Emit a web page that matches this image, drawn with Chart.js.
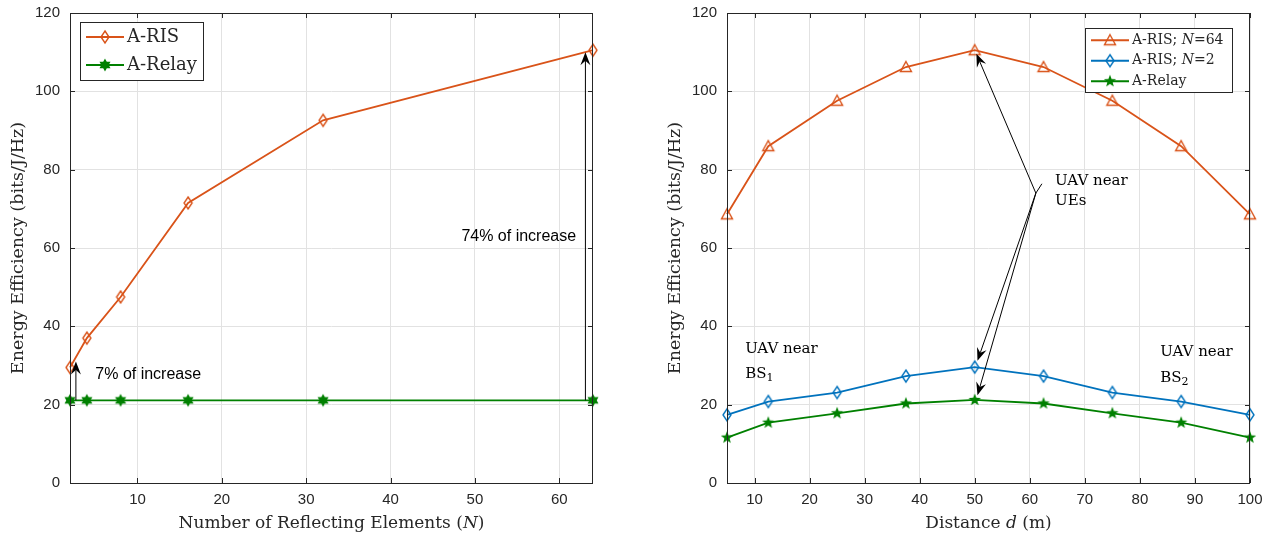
<!DOCTYPE html>
<html>
<head>
<meta charset="utf-8">
<script src="https://cdn.jsdelivr.net/npm/chart.js@4.4.1/dist/chart.umd.min.js"></script>
<style>
  body { margin: 0; background: #fff; }
  #wrap { position: relative; width: 1273px; height: 541px; }
  canvas { position: absolute; top: 0; }
</style>
</head>
<body>
<div id="wrap">
  <canvas id="effN" width="620" height="541" style="left:0"></canvas>
  <canvas id="effD" width="616" height="541" style="left:657px"></canvas>
</div>
<script>
// left panel: EE vs number of reflecting elements
const N_ELEMENTS = [2, 4, 8, 16, 32, 64];
const EE_RIS_N = [29.5, 37, 47.5, 71.5, 92.6, 110.5];
const EE_RELAY_N = [21.1, 21.1, 21.1, 21.1, 21.1, 21.1];
const X_TICKS_N = [10, 20, 30, 40, 50, 60];

// right panel: EE vs distance d
const DISTANCES = [5, 12.5, 25, 37.5, 50, 62.5, 75, 87.5, 100];
const EE_RIS64_D = [68.6, 86, 97.6, 106.2, 110.5, 106.2, 97.6, 86, 68.6];
const EE_RIS2_D = [17.4, 20.8, 23.1, 27.3, 29.6, 27.3, 23.1, 20.8, 17.4];
const EE_RELAY_D = [11.6, 15.4, 17.8, 20.3, 21.2, 20.3, 17.8, 15.4, 11.6];
const X_TICKS_D = [10, 20, 30, 40, 50, 60, 70, 80, 90, 100];

const Y_TICKS = [0, 20, 40, 60, 80, 100, 120];

const ORANGE = '#D95319';
const BLUE = '#0072BD';
const GREEN = '#008000';
const AXIS_COL = '#262626';
const SERIF = '"DejaVu Serif", serif';
const SANS = '"Liberation Sans", Arial, sans-serif';

// marker images (MATLAB-like)
function makeMarker(kind, color) {
  const c = document.createElement('canvas');
  c.width = 16; c.height = 16;
  const g = c.getContext('2d');
  const m = 8;
  g.strokeStyle = color;
  g.fillStyle = color;
  g.lineWidth = 1.4;
  g.beginPath();
  if (kind === 'diamond') {
    g.moveTo(m, m - 6); g.lineTo(m + 4, m); g.lineTo(m, m + 6); g.lineTo(m - 4, m); g.closePath();
    g.stroke();
  } else if (kind === 'triangle') {
    g.moveTo(m, m - 5.5); g.lineTo(m + 5.5, m + 4.5); g.lineTo(m - 5.5, m + 4.5); g.closePath();
    g.stroke();
  } else if (kind === 'hexagram') {
    for (let i = 0; i < 12; i++) {
      const r = i % 2 === 0 ? 5 : 2.9;
      const a = -Math.PI / 2 + i * Math.PI / 6;
      const px = m + r * Math.cos(a), py = m + r * Math.sin(a);
      i === 0 ? g.moveTo(px, py) : g.lineTo(px, py);
    }
    g.closePath(); g.fill(); g.stroke();
  } else if (kind === 'pentagram') {
    for (let i = 0; i < 10; i++) {
      const r = i % 2 === 0 ? 6.5 : 2.7;
      const a = -Math.PI / 2 + i * Math.PI / 5;
      const px = m + r * Math.cos(a), py = m + r * Math.sin(a);
      i === 0 ? g.moveTo(px, py) : g.lineTo(px, py);
    }
    g.closePath(); g.fill();
  }
  return c;
}

function pts(xs, ys) {
  return xs.map((x, i) => ({x: x, y: ys[i]}));
}

function series(label, xs, ys, color, marker) {
  return {
    label: label,
    data: pts(xs, ys),
    borderColor: color,
    borderWidth: 1.8,
    pointStyle: makeMarker(marker, color),
    pointRadius: 5,
    clip: false,
    tension: 0
  };
}

// draw rich text pieces [{t, italic, sub}]
function drawRich(ctx, pieces, x, y, size, align) {
  const fontOf = p => (p.italic ? 'italic ' : '') + (p.sub ? Math.round(size * 0.7) : size) + 'px ' + SERIF;
  let total = 0;
  pieces.forEach(p => { ctx.font = fontOf(p); total += ctx.measureText(p.t).width; });
  let cx = align === 'center' ? x - total / 2 : (align === 'right' ? x - total : x);
  ctx.textAlign = 'left';
  ctx.textBaseline = 'middle';
  pieces.forEach(p => {
    ctx.font = fontOf(p);
    ctx.fillText(p.t, cx, p.sub ? y + size * 0.3 : y);
    cx += ctx.measureText(p.t).width;
  });
}

function drawArrow(ctx, x0, y0, x1, y1) {
  const len = 13, half = 5, notch = 8.5;
  const a = Math.atan2(y1 - y0, x1 - x0);
  const cos = Math.cos(a), sin = Math.sin(a);
  ctx.save();
  ctx.strokeStyle = '#000';
  ctx.fillStyle = '#000';
  ctx.lineWidth = 1;
  ctx.beginPath();
  ctx.moveTo(x0, y0);
  ctx.lineTo(x1 - notch * cos, y1 - notch * sin);
  ctx.stroke();
  ctx.beginPath();
  ctx.moveTo(x1, y1);
  ctx.lineTo(x1 - len * cos - half * sin, y1 - len * sin + half * cos);
  ctx.lineTo(x1 - notch * cos, y1 - notch * sin);
  ctx.lineTo(x1 - len * cos + half * sin, y1 - len * sin - half * cos);
  ctx.closePath();
  ctx.fill();
  ctx.restore();
}

// box, inward ticks, axis titles
function drawFrame(chart, xTitle) {
  const {ctx, chartArea: ca, scales} = chart;
  ctx.save();
  ctx.strokeStyle = AXIS_COL;
  ctx.lineWidth = 1;
  ctx.strokeRect(ca.left + 0.5, ca.top + 0.5, ca.right - ca.left - 1, ca.bottom - ca.top);
  ctx.beginPath();
  scales.x.ticks.forEach(t => {
    const px = Math.round(scales.x.getPixelForValue(t.value)) + 0.5;
    ctx.moveTo(px, ca.bottom); ctx.lineTo(px, ca.bottom - 5);
    ctx.moveTo(px, ca.top); ctx.lineTo(px, ca.top + 5);
  });
  scales.y.ticks.forEach(t => {
    const py = Math.round(scales.y.getPixelForValue(t.value)) + 0.5;
    ctx.moveTo(ca.left, py); ctx.lineTo(ca.left + 5, py);
    ctx.moveTo(ca.right, py); ctx.lineTo(ca.right - 5, py);
  });
  ctx.stroke();

  ctx.fillStyle = AXIS_COL;
  drawRich(ctx, xTitle, (ca.left + ca.right) / 2, 524, 17, 'center');
  ctx.translate(ca.left - 52, (ca.top + ca.bottom) / 2);
  ctx.rotate(-Math.PI / 2);
  drawRich(ctx, [{t: 'Energy Efficiency (bits/J/Hz)'}], 0, 0, 17.5, 'center');
  ctx.restore();
}

function drawLegend(chart, box, rows, size) {
  const {ctx} = chart;
  const ds = chart.data.datasets;
  ctx.save();
  ctx.fillStyle = '#fff';
  ctx.fillRect(box.x, box.y, box.w, box.h);
  ctx.strokeStyle = AXIS_COL;
  ctx.lineWidth = 1;
  ctx.strokeRect(box.x + 0.5, box.y + 0.5, box.w, box.h);
  rows.forEach((pieces, i) => {
    const y = box.y + box.pad + box.row * (i + 0.5);
    const x0 = box.x + 6, x1 = x0 + 38;
    ctx.strokeStyle = ds[i].borderColor;
    ctx.lineWidth = 1.8;
    ctx.beginPath(); ctx.moveTo(x0, y); ctx.lineTo(x1, y); ctx.stroke();
    const img = ds[i].pointStyle;
    ctx.drawImage(img, (x0 + x1) / 2 - img.width / 2, y - img.height / 2);
    ctx.fillStyle = AXIS_COL;
    drawRich(ctx, pieces, x1 + 3, y, size, 'left');
  });
  ctx.restore();
}

function scaleOpts(min, max, ticksList, isX) {
  return {
    type: 'linear',
    min: min,
    max: max,
    grid: {color: '#e2e2e2', lineWidth: 1, drawTicks: false},
    border: {display: false},
    ticks: {
      color: AXIS_COL,
      font: {family: SANS, size: 15},
      padding: isX ? 8 : 10
    },
    afterBuildTicks: s => { s.ticks = ticksList.map(v => ({value: v})); },
    afterFit: s => {
      if (isX) s.height = 58; else s.width = 70;
      s.paddingTop = 0; s.paddingBottom = 0; s.paddingLeft = 0; s.paddingRight = 0;
    }
  };
}

// left panel
const leftAnnot = {
  id: 'leftAnnot',
  afterDraw(chart) {
    const {ctx, scales: {x, y}} = chart;
    drawFrame(chart, [{t: 'Number of Reflecting Elements ('}, {t: 'N', italic: true}, {t: ')'}]);
    drawArrow(ctx, x.getPixelForValue(2.7), y.getPixelForValue(21.1), x.getPixelForValue(2.7), y.getPixelForValue(31));
    drawArrow(ctx, x.getPixelForValue(63.1), y.getPixelForValue(21.1), x.getPixelForValue(63.1), y.getPixelForValue(110));
    ctx.save();
    ctx.fillStyle = '#000';
    ctx.font = '16px ' + SANS;
    ctx.textBaseline = 'middle';
    ctx.textAlign = 'left';
    ctx.fillText('7% of increase', x.getPixelForValue(5), y.getPixelForValue(27.6));
    ctx.textAlign = 'right';
    ctx.fillText('74% of increase', x.getPixelForValue(62), y.getPixelForValue(62.8));
    ctx.restore();
    const ca = chart.chartArea;
    drawLegend(chart, {x: ca.left + 10, y: ca.top + 9, w: 123, h: 58, pad: 1, row: 28},
      [[{t: 'A-RIS'}], [{t: 'A-Relay'}]], 18);
  }
};

new Chart(document.getElementById('effN'), {
  type: 'line',
  data: {
    datasets: [
      series('A-RIS', N_ELEMENTS, EE_RIS_N, ORANGE, 'diamond'),
      series('A-Relay', N_ELEMENTS, EE_RELAY_N, GREEN, 'hexagram')
    ]
  },
  options: {
    responsive: false,
    animation: false,
    layout: {padding: {left: 0, top: 13, right: 27, bottom: 0}},
    plugins: {legend: {display: false}, tooltip: {enabled: false}},
    scales: {
      x: scaleOpts(2, 64, X_TICKS_N, true),
      y: scaleOpts(0, 120, Y_TICKS, false)
    }
  },
  plugins: [leftAnnot]
});

// right panel
const rightAnnot = {
  id: 'rightAnnot',
  afterDraw(chart) {
    const {ctx, scales: {x, y}} = chart;
    drawFrame(chart, [{t: 'Distance '}, {t: 'd', italic: true}, {t: ' (m)'}]);
    const kx = x.getPixelForValue(61.1), ky = y.getPixelForValue(74);
    ctx.save();
    ctx.strokeStyle = '#000';
    ctx.lineWidth = 1;
    ctx.beginPath();
    ctx.moveTo(x.getPixelForValue(62.2), y.getPixelForValue(76.4));
    ctx.lineTo(kx, ky);
    ctx.stroke();
    ctx.restore();
    drawArrow(ctx, kx, ky, x.getPixelForValue(50.3), y.getPixelForValue(109.6));
    drawArrow(ctx, kx, ky, x.getPixelForValue(50.5), y.getPixelForValue(31.2));
    drawArrow(ctx, kx, ky, x.getPixelForValue(50.5), y.getPixelForValue(22.4));
    ctx.save();
    ctx.fillStyle = '#000';
    drawRich(ctx, [{t: 'UAV near'}], x.getPixelForValue(64.6), y.getPixelForValue(77.1), 15, 'left');
    drawRich(ctx, [{t: 'UEs'}], x.getPixelForValue(64.6), y.getPixelForValue(72), 15, 'left');
    drawRich(ctx, [{t: 'UAV near'}], x.getPixelForValue(8.3), y.getPixelForValue(34.3), 15, 'left');
    drawRich(ctx, [{t: 'BS'}, {t: '1', sub: true}], x.getPixelForValue(8.3), y.getPixelForValue(27.9), 15, 'left');
    drawRich(ctx, [{t: 'UAV near'}], x.getPixelForValue(83.7), y.getPixelForValue(33.3), 15, 'left');
    drawRich(ctx, [{t: 'BS'}, {t: '2', sub: true}], x.getPixelForValue(83.7), y.getPixelForValue(26.9), 15, 'left');
    ctx.restore();
    const ca = chart.chartArea;
    drawLegend(chart, {x: ca.right - 165, y: ca.top + 15, w: 147, h: 64, pad: 2, row: 20.5},
      [[{t: 'A-RIS; '}, {t: 'N', italic: true}, {t: '=64'}],
       [{t: 'A-RIS; '}, {t: 'N', italic: true}, {t: '=2'}],
       [{t: 'A-Relay'}]], 14);
  }
};

new Chart(document.getElementById('effD'), {
  type: 'line',
  data: {
    datasets: [
      series('A-RIS; N=64', DISTANCES, EE_RIS64_D, ORANGE, 'triangle'),
      series('A-RIS; N=2', DISTANCES, EE_RIS2_D, BLUE, 'diamond'),
      series('A-Relay', DISTANCES, EE_RELAY_D, GREEN, 'pentagram')
    ]
  },
  options: {
    responsive: false,
    animation: false,
    layout: {padding: {left: 0, top: 13, right: 23, bottom: 0}},
    plugins: {legend: {display: false}, tooltip: {enabled: false}},
    scales: {
      x: scaleOpts(5, 100, X_TICKS_D, true),
      y: scaleOpts(0, 120, Y_TICKS, false)
    }
  },
  plugins: [rightAnnot]
});
</script>
</body>
</html>
